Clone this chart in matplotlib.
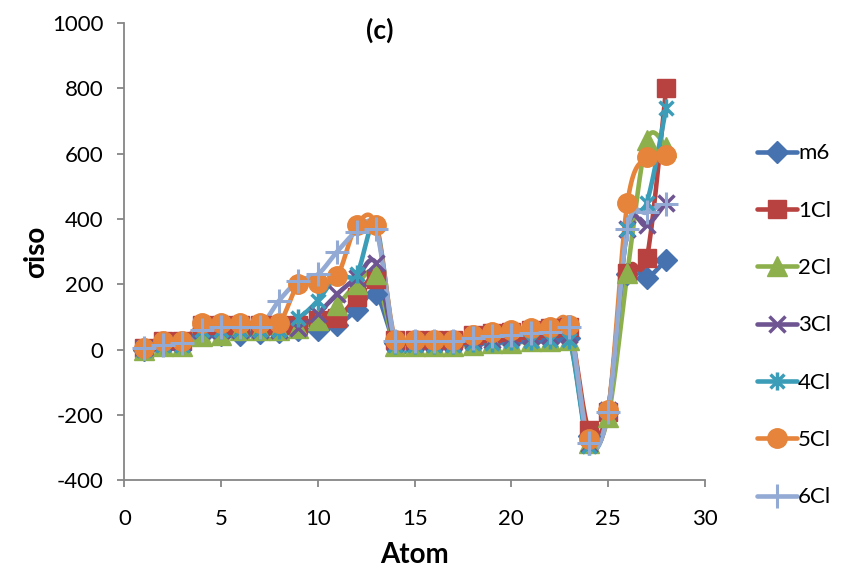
import numpy as np
import matplotlib
matplotlib.use("Agg")
import matplotlib.pyplot as plt
from matplotlib.path import Path

plt.rcParams['font.family'] = ['Lato', 'DejaVu Sans']
plt.rcParams['axes.unicode_minus'] = False

atoms = list(range(1, 29))

m6 = [0, 20, 20, 45, 45, 45, 50, 55, 60, 60, 75, 120, 170,
      20, 20, 20, 20, 20, 25, 25, 30, 30, 35,
      -265, -190, 230, 220, 275]
cl1 = [5, 25, 25, 75, 75, 75, 75, 75, 75, 90, 95, 160, 215,
       30, 30, 30, 30, 45, 50, 55, 60, 65, 70,
       -245, -190, 235, 280, 800]
cl2 = [0, 10, 10, 40, 45, 60, 60, 60, 65, 90, 135, 200, 230,
       10, 10, 10, 10, 15, 20, 20, 25, 25, 30,
       -285, -205, 235, 640, 620]
cl3 = [5, 20, 20, 60, 60, 60, 60, 60, 65, 110, 170, 220, 265,
       20, 20, 20, 20, 25, 30, 35, 40, 40, 45,
       -290, -185, 370, 380, 450]
cl4 = [0, 15, 15, 60, 60, 60, 60, 60, 95, 150, 225, 230, 380,
       15, 15, 15, 15, 20, 20, 25, 25, 30, 30,
       -295, -185, 370, 450, 740]
cl5 = [5, 25, 25, 80, 80, 80, 80, 80, 200, 205, 225, 380, 380,
       30, 30, 30, 30, 45, 55, 60, 65, 70, 75,
       -275, -185, 450, 590, 595]
cl6 = [5, 15, 20, 60, 70, 70, 70, 150, 210, 230, 300, 360, 370,
       25, 25, 25, 25, 35, 40, 45, 50, 55, 70,
       -285, -190, 370, 420, 445]

labels = ['m6', '1Cl', '2Cl', '3Cl', '4Cl', '5Cl', '6Cl']
colors = ['#4673B0', '#B8423F', '#8DB04D', '#6E5592', '#3C9DB8', '#E5843A', '#93AAD4']

# Excel style star: an X with a vertical bar
star = Path([(-1, -1), (1, 1), (-1, 1), (1, -1), (0, -1.3), (0, 1.3)],
            [Path.MOVETO, Path.LINETO, Path.MOVETO, Path.LINETO, Path.MOVETO, Path.LINETO])

markers = [dict(marker='D', ms=11),
           dict(marker='s', ms=13),
           dict(marker='^', ms=14),
           dict(marker='x', ms=12, mew=2.5),
           dict(marker=star, ms=13, mew=2.5, mfc='none'),
           dict(marker='o', ms=14),
           dict(marker='+', ms=17, mew=2.2)]


def smooth(x, y, n=20):
    # bezier through points, control points like Excel smoothed lines
    x = np.asarray(x, float)
    y = np.asarray(y, float)
    px = np.concatenate(([x[0]], x, [x[-1]]))
    py = np.concatenate(([y[0]], y, [y[-1]]))
    t = np.linspace(0, 1, n)[:, None]
    xs, ys = [], []
    for i in range(1, len(px) - 2):
        p0 = np.array([px[i], py[i]])
        p3 = np.array([px[i + 1], py[i + 1]])
        p1 = p0 + (p3 - np.array([px[i - 1], py[i - 1]])) / 6
        p2 = p3 - (np.array([px[i + 2], py[i + 2]]) - p0) / 6
        b = ((1 - t) ** 3) * p0 + 3 * ((1 - t) ** 2) * t * p1 + 3 * (1 - t) * t ** 2 * p2 + t ** 3 * p3
        xs.append(b[:, 0])
        ys.append(b[:, 1])
    return np.concatenate(xs), np.concatenate(ys)


fig = plt.figure(figsize=(8.55, 5.71), dpi=100)
ax = fig.add_axes([0.1454, 0.159, 0.679, 0.801])

handles = []
for vals, lab, col, mk in zip([m6, cl1, cl2, cl3, cl4, cl5, cl6], labels, colors, markers):
    sx, sy = smooth(atoms, vals)
    ax.plot(sx, sy, color=col, lw=3.3, solid_capstyle='round', zorder=2)
    ax.plot(atoms, vals, ls='none', color=col, mec=col, zorder=3, **mk)
    h, = ax.plot([], [], color=col, mec=col, lw=3.3, solid_capstyle='round', **mk)
    h.set_label(lab)
    handles.append(h)

ax.set_xlim(0, 30)
ax.set_ylim(-400, 1000)
ax.set_xticks(range(0, 31, 5))
ax.set_yticks(range(-400, 1001, 200))
for s in ['top', 'right']:
    ax.spines[s].set_visible(False)
for s in ['left', 'bottom']:
    ax.spines[s].set_color('#868686')
    ax.spines[s].set_linewidth(1.3)
ax.tick_params(colors='#868686', labelcolor='black', labelsize=16, length=5, width=1.3)
ax.tick_params(axis='x', pad=16)
ax.tick_params(axis='y', pad=10)

ax.set_xlabel('Atom', fontsize=20, fontweight='bold', labelpad=9)
ax.set_ylabel('σiso', fontsize=20, fontweight='bold', labelpad=2)
fig.text(0.444, 0.947, '(c)', fontsize=19, fontweight='bold', ha='center', va='center')

fig.legend(handles=handles, loc='center left', bbox_to_anchor=(0.875, 0.430),
           frameon=False, fontsize=16, labelspacing=1.68, handlelength=1.8,
           handletextpad=0.05, borderaxespad=0)

fig.savefig('out.png', dpi=100)
